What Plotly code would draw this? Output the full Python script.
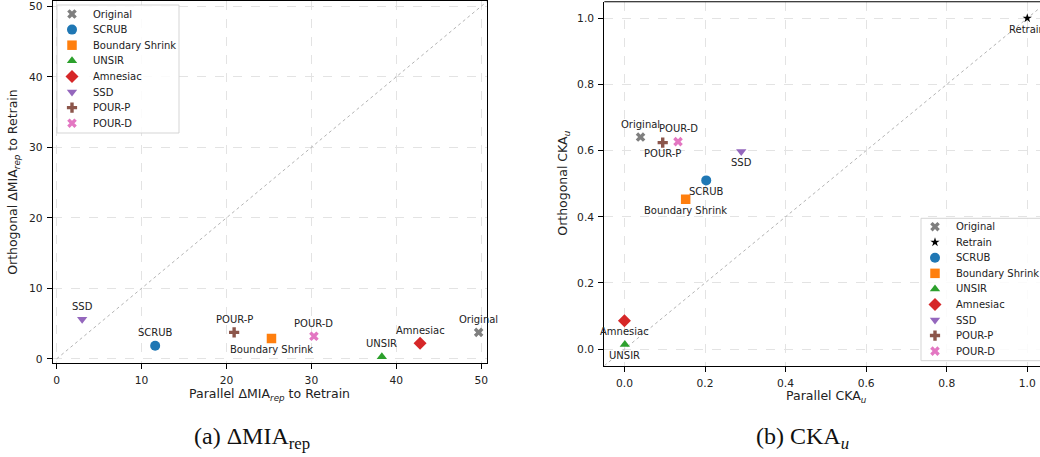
import plotly.graph_objects as go

# ---------------- data ----------------
methods_a = ["Original", "SCRUB", "Boundary Shrink", "UNSIR", "Amnesiac", "SSD", "POUR-P", "POUR-D"]
par_mia = [49.7, 11.6, 25.3, 38.3, 42.8, 3.0, 20.9, 30.3]
orth_mia = [3.75, 1.85, 2.9, 0.3, 2.2, 5.6, 3.75, 3.2]

methods_b = ["Original", "Retrain", "SCRUB", "Boundary Shrink", "UNSIR", "Amnesiac", "SSD", "POUR-P", "POUR-D"]
par_cka = [0.040, 1.0, 0.203, 0.152, 0.001, 0.0, 0.290, 0.095, 0.133]
orth_cka = [0.641, 1.0, 0.510, 0.453, 0.014, 0.086, 0.597, 0.624, 0.627]

ticks_a = [0, 10, 20, 30, 40, 50]
ticks_b = [0.0, 0.2, 0.4, 0.6, 0.8, 1.0]

# ---------------- styles ----------------
W, H = 1040, 457
FONT = "DejaVu Sans"
style = {
    "Original": ("#7f7f7f", "x", 8.5),
    "Retrain": ("#000000", "star", 7),
    "SCRUB": ("#1f77b4", "circle", 10),
    "Boundary Shrink": ("#ff7f0e", "square", 9.5),
    "UNSIR": ("#2ca02c", "triangle-up", 9),
    "Amnesiac": ("#d62728", "diamond", 10),
    "SSD": ("#9467bd", "triangle-down", 9),
    "POUR-P": ("#8c564b", "cross", 8.5),
    "POUR-D": ("#e377c2", "x", 8.5),
}
# label placement: +1 above the point, -1 below
label_pos_a = {"Boundary Shrink": -1}
label_pos_b = {"Original": 1, "POUR-D": 1}
label_default_a, label_default_b = 1, -1


def px(x):
    return x / W


def py(y):
    return 1 - y / H


# panel pixel boxes (left, top, right, bottom)
A_BOX = (52.7, 1.0, 486.7, 362.7)
B_BOX = (604.3, 1.7, 1040.0, 365.7)

fig = go.Figure()

# diagonal reference lines
diag_a = [0, 51]
diag_b = [-0.05, 1.05]
fig.add_trace(go.Scatter(x=diag_a, y=diag_a, mode="lines", xaxis="x", yaxis="y",
                         line=dict(color="#aaaaaa", width=0.9, dash="dot"), showlegend=False, hoverinfo="skip"))
fig.add_trace(go.Scatter(x=diag_b, y=diag_b, mode="lines", xaxis="x2", yaxis="y2",
                         line=dict(color="#aaaaaa", width=0.9, dash="dot"), showlegend=False, hoverinfo="skip"))

annotations = []
for name, xv, yv in zip(methods_a, par_mia, orth_mia):
    c, s, sz = style[name]
    fig.add_trace(go.Scatter(x=[xv], y=[yv], mode="markers", xaxis="x", yaxis="y", name=name,
                             marker=dict(color=c, symbol=s, size=sz, line=dict(width=0)), showlegend=False))
    d = label_pos_a.get(name, label_default_a)
    annotations.append(dict(x=xv, y=yv, xref="x", yref="y", text=name, showarrow=False,
                            yshift=13 if d > 0 else -11, yanchor="middle",
                            font=dict(family=FONT, size=10, color="#222")))

for name, xv, yv in zip(methods_b, par_cka, orth_cka):
    c, s, sz = style[name]
    fig.add_trace(go.Scatter(x=[xv], y=[yv], mode="markers", xaxis="x2", yaxis="y2", name=name,
                             marker=dict(color=c, symbol=s, size=sz, line=dict(width=0)), showlegend=False,
                             cliponaxis=False))
    d = label_pos_b.get(name, label_default_b)
    annotations.append(dict(x=xv, y=yv, xref="x2", yref="y2", text=name, showarrow=False,
                            yshift=13 if d > 0 else -11, yanchor="middle",
                            font=dict(family=FONT, size=10, color="#222")))

# ---------------- custom legends (overlay pixel axis x3/y3) ----------------
shapes = []
legends = [
    (methods_a, (57, 5, 179, 133), 72, 90.7, 14.0, 15.6),
    (methods_b, (921, 218.3, 1062, 360.7), 935, 954, 226.7, 15.55),
]
for names, (bx0, by0, bx1, by1), mx, tx, y0, dy in legends:
    shapes.append(dict(type="rect", xref="x3", yref="y3", x0=bx0, y0=by0, x1=bx1, y1=by1,
                       line=dict(color="#d0d0d0", width=0.9), fillcolor="rgba(255,255,255,0.85)",
                       layer="below"))
    for i, name in enumerate(names):
        c, s, sz = style[name]
        yy = y0 + i * dy
        fig.add_trace(go.Scatter(x=[mx], y=[yy], mode="markers", xaxis="x3", yaxis="y3",
                                 marker=dict(color=c, symbol=s, size=sz, line=dict(width=0)),
                                 showlegend=False, hoverinfo="skip", cliponaxis=False))
        annotations.append(dict(x=tx, y=yy, xref="x3", yref="y3", text=name, showarrow=False,
                                xanchor="left", yanchor="middle",
                                font=dict(family=FONT, size=10, color="#222")))

# top spine for right panel (right spine falls outside the picture)
shapes.append(dict(type="line", xref="x2 domain", yref="y2 domain", x0=0, x1=1, y0=1, y1=1,
                   line=dict(color="#000", width=1.1)))

# ---------------- axis titles and captions ----------------
title_font = dict(family=FONT, size=12.5, color="#222")
annotations += [
    dict(x=px((A_BOX[0] + A_BOX[2]) / 2), y=py(394), xref="paper", yref="paper",
         text="Parallel ΔMIA<sub><i>rep</i></sub> to Retrain", showarrow=False,
         xanchor="center", yanchor="middle", font=title_font),
    dict(x=px(14), y=py((A_BOX[1] + A_BOX[3]) / 2), xref="paper", yref="paper",
         text="Orthogonal ΔMIA<sub><i>rep</i></sub> to Retrain", showarrow=False, textangle=-90,
         xanchor="center", yanchor="middle", font=title_font),
    dict(x=px(826), y=py(396), xref="paper", yref="paper",
         text="Parallel CKA<sub><i>u</i></sub>", showarrow=False,
         xanchor="center", yanchor="middle", font=title_font),
    dict(x=px(564), y=py((B_BOX[1] + B_BOX[3]) / 2), xref="paper", yref="paper",
         text="Orthogonal CKA<sub><i>u</i></sub>", showarrow=False, textangle=-90,
         xanchor="center", yanchor="middle", font=title_font),
    dict(x=px(252), y=py(438), xref="paper", yref="paper",
         text="(a) ΔMIA<sub>rep</sub>", showarrow=False, xanchor="center", yanchor="middle",
         font=dict(family="Liberation Serif", size=24, color="#111")),
    dict(x=px(802), y=py(438), xref="paper", yref="paper",
         text="(b) CKA<sub><i>u</i></sub>", showarrow=False, xanchor="center", yanchor="middle",
         font=dict(family="Liberation Serif", size=24, color="#111")),
]

tick_font = dict(family=FONT, size=10.7, color="#222")
common = dict(showgrid=True, gridcolor="#e3e3e3", griddash="dash", gridwidth=0.8, zeroline=False,
              showline=True, linecolor="#000", linewidth=1.1, ticks="outside", ticklen=5,
              tickwidth=1, tickcolor="#000", tickfont=tick_font, fixedrange=True, ticklabelstandoff=2,
              automargin=False)

fig.update_layout(
    width=W, height=H,
    margin=dict(l=0, r=0, t=0, b=0, autoexpand=False),
    paper_bgcolor="white", plot_bgcolor="rgba(0,0,0,0)",
    showlegend=False,
    xaxis=dict(domain=[px(A_BOX[0]), px(A_BOX[2])], range=[-0.47, 50.65], tickvals=ticks_a,
               anchor="y", mirror=True, **common),
    yaxis=dict(domain=[py(A_BOX[3]), py(A_BOX[1])], range=[-0.55, 50.75], tickvals=ticks_a,
               anchor="x", mirror=True, **common),
    xaxis2=dict(domain=[px(B_BOX[0]), 1.0], range=[-0.05, 1.0316], tickvals=ticks_b,
                tickformat=".1f", anchor="y2", **common),
    yaxis2=dict(domain=[py(B_BOX[3]), py(B_BOX[1])], range=[-0.05, 1.05], tickvals=ticks_b,
                tickformat=".1f", anchor="x2", **common),
    xaxis3=dict(domain=[0, 1], range=[0, W], visible=False, fixedrange=True, anchor="y3",
                automargin=False),
    yaxis3=dict(domain=[0, 1], range=[H, 0], visible=False, fixedrange=True, anchor="x3",
                automargin=False),
    annotations=annotations,
    shapes=shapes,
)

fig.write_html("out.html", config={"displayModeBar": False},
               post_script="document.body.style.margin='0';")
